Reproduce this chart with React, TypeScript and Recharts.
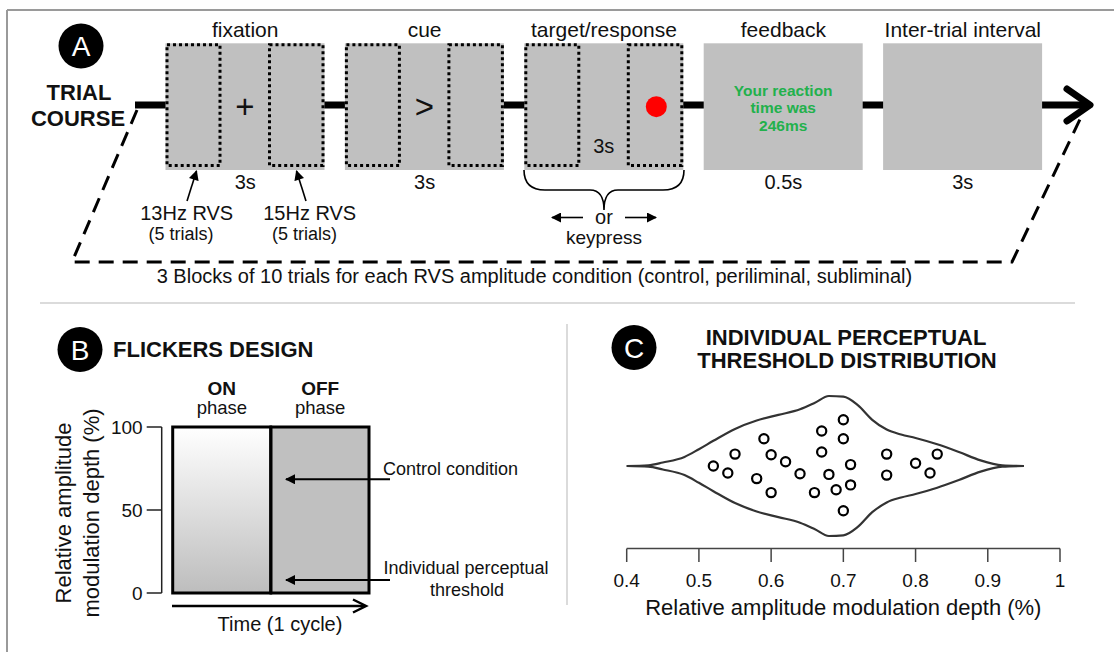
import React from 'react';
import {
  Area,
  Bar,
  BarChart,
  Cell,
  ComposedChart,
  Label,
  Scatter,
  XAxis,
  YAxis,
} from 'recharts';

const FONT = '"Liberation Sans", Arial, sans-serif';
const INK = '#111';
const BOX_GRAY = '#c0c0c0';

// panel A: trial course
const phases = ['fixation', 'cue', 'target/response', 'feedback', 'Inter-trial interval'];
const phaseDurations = ['3s', '3s', '3s', '0.5s', '3s'];
const phaseShown = [1, 1, 1, 1, 1];
const feedbackLines = ['Your reaction', 'time was', '246ms'];

// panel B: flicker design
const flickerPhases = ['ON', 'OFF'];
const flickerDepth = [100, 100];
const depthTicks = [0, 50, 100];

// panel C: individual thresholds + violin outline
const thresholds = [
  0.52, 0.54, 0.55, 0.59, 0.6, 0.58, 0.6, 0.62, 0.64, 0.67, 0.67, 0.7,
  0.7, 0.71, 0.68, 0.66, 0.69, 0.71, 0.7, 0.76, 0.76, 0.8, 0.82, 0.83,
];
const jitter = [
  0, -0.1, 0.17, 0.39, 0.16, -0.18, -0.38, 0.06, -0.11, 0.5, 0.2, 0.66,
  0.39, 0.02, -0.12, -0.38, -0.34, -0.27, -0.64, 0.17, -0.13, 0.04, -0.1, 0.17,
];
const densityX = [
  0.4, 0.43, 0.45, 0.48, 0.5, 0.52, 0.55, 0.58, 0.61, 0.64, 0.66, 0.68,
  0.7, 0.72, 0.74, 0.76, 0.78, 0.8, 0.83, 0.86, 0.89, 0.92, 0.95,
];
const densityHalfWidth = [
  0, 0.01, 0.05, 0.13, 0.24, 0.36, 0.53, 0.65, 0.73, 0.81, 0.9, 1.0,
  0.99, 0.87, 0.66, 0.52, 0.45, 0.4, 0.31, 0.2, 0.08, 0.01, 0,
];
const depthAxisTicks = [0.4, 0.5, 0.6, 0.7, 0.8, 0.9, 1];

const trialData = phases.map((phase, i) => ({ phase, shown: phaseShown[i] }));
const flickerData = flickerPhases.map((phase, i) => ({ phase, depth: flickerDepth[i] }));
const violinData = densityX.map((x, i) => ({
  x,
  band: [-densityHalfWidth[i], densityHalfWidth[i]],
}));
const subjectPoints = thresholds.map((x, i) => ({ x, y: jitter[i] }));

function PhaseBox(props: any) {
  const { x, y, width, height, payload } = props;
  const i = phases.indexOf(payload.phase);
  const cx = x + width / 2;
  const cy = y + height / 2;
  const dotted = {
    fill: 'none',
    stroke: '#000',
    strokeWidth: 3,
    strokeDasharray: '3 3',
  };
  return (
    <g>
      <rect x={x} y={y} width={width} height={height} fill={BOX_GRAY} />
      {i <= 2 && (
        <>
          <rect x={x + 1.5} y={y + 1.5} width={53} height={height - 6} {...dotted} />
          <rect x={x + width - 55} y={y + 1.5} width={53.5} height={height - 6} {...dotted} />
        </>
      )}
      {i === 0 && (
        <text x={cx} y={cy + 11} textAnchor="middle" fontSize={33} fill={INK} fontFamily={FONT}>
          +
        </text>
      )}
      {i === 1 && (
        <text x={cx} y={cy + 11} textAnchor="middle" fontSize={33} fill={INK} fontFamily={FONT}>
          {'>'}
        </text>
      )}
      {i === 2 && (
        <>
          <circle cx={x + width - 27} cy={cy} r={10.5} fill="#ff0000" />
          <text x={cx} y={y + 109.5} textAnchor="middle" fontSize={20} fill={INK} fontFamily={FONT}>
            {phaseDurations[i]}
          </text>
        </>
      )}
      {i === 3 &&
        feedbackLines.map((line, k) => (
          <text
            key={line}
            x={cx}
            y={y + 52.5 + k * 17.6}
            textAnchor="middle"
            fontSize={15.5}
            fontWeight="bold"
            fill="#22b14c"
            fontFamily={FONT}
          >
            {line}
          </text>
        ))}
    </g>
  );
}

function FlickerTick(props: any) {
  const { x, y, payload } = props;
  return (
    <g fontFamily={FONT} fill={INK}>
      <text x={x} y={y - 32} textAnchor="middle" fontSize={19} fontWeight="bold">
        {payload.value}
      </text>
      <text x={x} y={y - 12.6} textAnchor="middle" fontSize={18.5}>
        phase
      </text>
    </g>
  );
}

function SubjectDot(props: any) {
  const { cx, cy } = props;
  return <circle cx={cx} cy={cy} r={4.6} fill="#fff" stroke="#000" strokeWidth={2.2} />;
}

function Badge({ x, y, letter }: { x: number; y: number; letter: string }) {
  return (
    <g>
      <circle cx={x} cy={y} r={22.5} fill="#000" />
      <text x={x} y={y + 10} textAnchor="middle" fontSize={28} fill="#fff" fontFamily={FONT}>
        {letter}
      </text>
    </g>
  );
}

export default function App() {
  const abs = (left: number, top: number): React.CSSProperties => ({
    position: 'absolute',
    left,
    top,
  });

  return (
    <div
      style={{
        position: 'absolute',
        left: 0,
        top: 0,
        width: 1114,
        height: 652,
        background: '#fff',
        fontFamily: FONT,
        overflow: 'hidden',
      }}
    >
      {/* underlay: frame, timeline, block loop */}
      <svg width={1114} height={652} style={abs(0, 0)}>
        <line x1={7} y1={10} x2={1114} y2={10} stroke="#9a9a9a" strokeWidth={2} />
        <line x1={7} y1={10} x2={7} y2={652} stroke="#9a9a9a" strokeWidth={2} />
        <line x1={40} y1={303} x2={1075} y2={303} stroke="#cfcfcf" strokeWidth={1.5} />
        <line x1={567} y1={324} x2={567} y2={605} stroke="#cfcfcf" strokeWidth={1.5} />

        <line x1={135} y1={105} x2={1088} y2={105} stroke="#000" strokeWidth={7} />
        <path
          d="M 1067 89 L 1090 105 L 1067 121"
          fill="none"
          stroke="#000"
          strokeWidth={7}
          strokeLinecap="round"
          strokeLinejoin="round"
        />
        <path
          d="M 137 110 L 72 262 L 1012 262 L 1083 113"
          fill="none"
          stroke="#000"
          strokeWidth={3}
          strokeDasharray="15 9"
        />
      </svg>

      {/* A: trial course */}
      <div style={abs(0, 0)}>
        <BarChart
          width={1114}
          height={300}
          data={trialData}
          margin={{ top: 13.3, right: 61.5, bottom: 100, left: 155.5 }}
        >
          <XAxis
            xAxisId="phase"
            dataKey="phase"
            orientation="top"
            height={30}
            axisLine={false}
            tickLine={false}
            tickSize={0}
            tickMargin={6}
            interval={0}
            tick={{ fontSize: 21, fill: INK, fontFamily: FONT }}
          />
          <XAxis
            xAxisId="dur"
            dataKey="phase"
            orientation="bottom"
            height={30}
            axisLine={false}
            tickLine={false}
            tickSize={0}
            tickMargin={4.5}
            interval={0}
            tickFormatter={(_v: string, i: number) => (i === 2 ? '' : phaseDurations[i])}
            tick={{ fontSize: 20, fill: INK, fontFamily: FONT }}
          />
          <YAxis hide domain={[0, 1]} />
          <Bar
            xAxisId="phase"
            dataKey="shown"
            barSize={159}
            shape={PhaseBox}
            isAnimationActive={false}
          />
        </BarChart>
      </div>

      {/* B: flicker design */}
      <div style={abs(0, 360)}>
        <BarChart
          width={560}
          height={270}
          data={flickerData}
          barCategoryGap={0}
          margin={{ top: 0, right: 190.7, bottom: 37, left: 0 }}
        >
          <defs>
            <linearGradient id="onGrad" x1="0" y1="0" x2="0" y2="1">
              <stop offset="0%" stopColor="#ffffff" />
              <stop offset="100%" stopColor="#bdbdbd" />
            </linearGradient>
          </defs>
          <XAxis
            dataKey="phase"
            orientation="top"
            height={67}
            padding={{ left: 11, right: 0 }}
            axisLine={false}
            tickLine={false}
            tickSize={0}
            tickMargin={0}
            interval={0}
            tick={(p: any) => <FlickerTick {...p} />}
          />
          <YAxis
            width={161.7}
            domain={[0, 100]}
            ticks={depthTicks}
            interval={0}
            tickSize={15}
            tickMargin={4}
            axisLine={{ stroke: '#222', strokeWidth: 1.5 }}
            tickLine={{ stroke: '#222', strokeWidth: 1.5 }}
            tick={{ fontSize: 19, fill: INK, fontFamily: FONT }}
          />
          <Bar dataKey="depth" stroke="#000" strokeWidth={3} isAnimationActive={false}>
            {flickerData.map((d, i) => (
              <Cell key={d.phase} fill={i === 0 ? 'url(#onGrad)' : BOX_GRAY} />
            ))}
          </Bar>
        </BarChart>
      </div>

      {/* C: threshold distribution */}
      <div style={abs(600, 370)}>
        <ComposedChart
          width={480}
          height={262}
          data={violinData}
          margin={{ top: 13.4, right: 20, bottom: 0, left: 26.7 }}
        >
          <XAxis
            dataKey="x"
            type="number"
            domain={[0.4, 1]}
            ticks={depthAxisTicks}
            interval={0}
            height={83.4}
            tickSize={13.4}
            tickMargin={11.5}
            tickFormatter={(v: number) => String(v)}
            axisLine={{ stroke: '#444', strokeWidth: 1.5 }}
            tickLine={{ stroke: '#444', strokeWidth: 1.5 }}
            tick={{ fontSize: 19, fill: INK, fontFamily: FONT }}
          >
            <Label
              value="Relative amplitude modulation depth (%)"
              position="insideBottom"
              offset={17}
              style={{ fontSize: 22, fill: INK, fontFamily: FONT }}
            />
          </XAxis>
          <YAxis hide dataKey="y" type="number" domain={[-1.18, 1.18]} allowDataOverflow />
          <Area
            dataKey="band"
            type="monotone"
            stroke="#333"
            strokeWidth={2.2}
            fill="none"
            isAnimationActive={false}
          />
          <Scatter
            data={subjectPoints}
            dataKey="y"
            shape={SubjectDot}
            isAnimationActive={false}
          />
        </ComposedChart>
      </div>

      {/* overlay: labels and annotations */}
      <svg width={1114} height={652} style={abs(0, 0)} fontFamily={FONT} fill={INK}>
        <defs>
          <marker
            id="head"
            viewBox="0 0 10 10"
            refX={9}
            refY={5}
            markerWidth={11}
            markerHeight={10}
            markerUnits="userSpaceOnUse"
            orient="auto"
          >
            <path d="M 0 0 L 10 5 L 0 10 z" fill="#000" />
          </marker>
        </defs>

        {/* A */}
        <Badge x={81} y={46} letter="A" />
        <text x={79} y={99.5} textAnchor="middle" fontSize={22} fontWeight="bold">
          TRIAL
        </text>
        <text x={78} y={126} textAnchor="middle" fontSize={22} fontWeight="bold">
          COURSE
        </text>
        <line x1={187} y1={201} x2={196.5} y2={171} stroke="#000" strokeWidth={1.6} markerEnd="url(#head)" />
        <line x1={306} y1={201} x2={296.5} y2={171} stroke="#000" strokeWidth={1.6} markerEnd="url(#head)" />
        <text x={186.7} y={220} textAnchor="middle" fontSize={20}>
          13Hz RVS
        </text>
        <text x={181} y={240} textAnchor="middle" fontSize={18}>
          (5 trials)
        </text>
        <text x={309.7} y={220} textAnchor="middle" fontSize={20}>
          15Hz RVS
        </text>
        <text x={304.5} y={240} textAnchor="middle" fontSize={18}>
          (5 trials)
        </text>
        <path
          d="M 524 170 Q 524 190 545 190 L 590 190 Q 604 190 604 210 Q 604 190 618 190 L 663 190 Q 684 190 684 170"
          fill="none"
          stroke="#000"
          strokeWidth={1.6}
        />
        <line x1={583} y1={217.5} x2={552} y2={217.5} stroke="#000" strokeWidth={1.6} markerEnd="url(#head)" />
        <line x1={625} y1={217.5} x2={656} y2={217.5} stroke="#000" strokeWidth={1.6} markerEnd="url(#head)" />
        <text x={604} y={224} textAnchor="middle" fontSize={20}>
          or
        </text>
        <text x={604} y={244} textAnchor="middle" fontSize={19}>
          keypress
        </text>
        <text x={156.7} y={283} fontSize={20}>
          3 Blocks of 10 trials for each RVS amplitude condition (control, periliminal, subliminal)
        </text>

        {/* B */}
        <Badge x={80} y={349.5} letter="B" />
        <text x={113} y={357} fontSize={22} fontWeight="bold">
          FLICKERS DESIGN
        </text>
        <text transform="translate(71 513) rotate(-90)" textAnchor="middle" fontSize={22}>
          Relative amplitude
        </text>
        <text transform="translate(98.5 513) rotate(-90)" textAnchor="middle" fontSize={22}>
          modulation depth (%)
        </text>
        <line x1={390} y1={479.3} x2={286} y2={479.3} stroke="#000" strokeWidth={2} markerEnd="url(#head)" />
        <line x1={390} y1={580} x2={286} y2={580} stroke="#000" strokeWidth={2} markerEnd="url(#head)" />
        <text x={383} y={475} fontSize={18}>
          Control condition
        </text>
        <text x={466} y={573.5} textAnchor="middle" fontSize={18}>
          Individual perceptual
        </text>
        <text x={467} y={596} textAnchor="middle" fontSize={18}>
          threshold
        </text>
        <line x1={172} y1={606} x2={365} y2={606} stroke="#000" strokeWidth={2.5} />
        <path d="M 353 599.5 L 366 606 L 353 612.5" fill="none" stroke="#000" strokeWidth={2.5} />
        <text x={280} y={631} textAnchor="middle" fontSize={20}>
          Time (1 cycle)
        </text>

        {/* C */}
        <Badge x={634} y={347.5} letter="C" />
        <text x={846} y={344.5} textAnchor="middle" fontSize={22} fontWeight="bold">
          INDIVIDUAL PERCEPTUAL
        </text>
        <text x={847} y={368} textAnchor="middle" fontSize={22} fontWeight="bold">
          THRESHOLD DISTRIBUTION
        </text>
      </svg>
    </div>
  );
}
